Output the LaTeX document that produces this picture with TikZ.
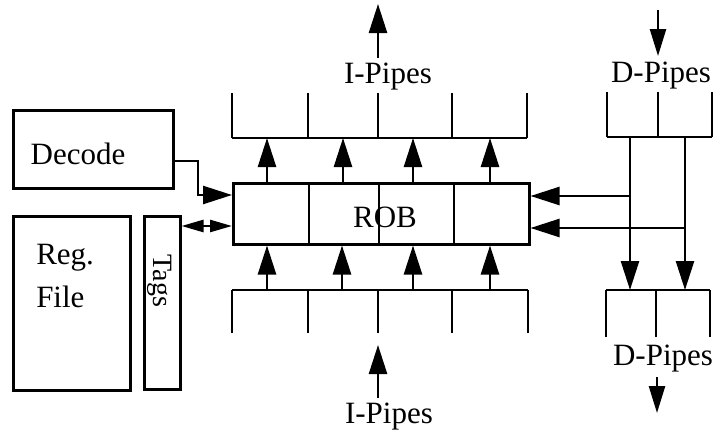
\documentclass[tikz,border=0pt]{standalone}
\usepackage{fontspec}
\setmainfont{Liberation Serif}
\usetikzlibrary{arrows.meta}
\begin{document}
\begin{tikzpicture}[x=1pt,y=-1pt,line width=2.5pt,
  box/.style={draw,line width=2.5pt,inner sep=0pt,anchor=north west},
  lbl/.style={font=\fontsize{31}{36}\selectfont,inner sep=0pt,anchor=base},
  bigarrow/.style={-{Triangle[length=29pt,width=18pt]}},
  midarrow/.style={-{Triangle[length=27pt,width=16pt]}},
  smallboth/.style={{Triangle[length=22pt,width=12pt]}-{Triangle[length=22pt,width=12pt]}}]
\useasboundingbox (0,0) rectangle (718,431);

% boxes
\node[box,minimum width=160pt,minimum height=78pt] (decode) at (12,109) {};
\node[box,minimum width=117pt,minimum height=174pt] (regfile) at (12,215) {};
\node[box,minimum width=36pt,minimum height=173pt] (tags) at (143,215) {};
\node[box,minimum width=296pt,minimum height=61pt] (rob) at (232,182) {};

% ROB dividers
\foreach \x [count=\i] in {309,379,454}{
  \coordinate (rd\i) at (\x,0);
  \draw (rd\i |- rob.north) -- (rd\i |- rob.south);
}

% texts
\node[lbl] (tdecode) at (78,164) {Decode};
\node[lbl,anchor=base west] (treg) at (35,264) {Reg.};
\node[lbl,anchor=base west] (tfile) at (35,307) {File};
\node[font=\fontsize{28}{32}\selectfont,inner sep=0pt,rotate=-90] (ttags) at (160,281) {Tags};
\node[lbl] (trob) at (385,227) {ROB};
\node[lbl] (tip1) at (388,83) {I-Pipes};
\node[lbl] (tip2) at (389,423) {I-Pipes};
\node[lbl] (tdp1) at (661,82) {D-Pipes};
\node[lbl] (tdp2) at (663,365) {D-Pipes};

% top I-pipes comb
\coordinate (ita) at (232,138);
\coordinate (itb) at (527,138);
\draw (ita) -- (itb);
\foreach \x [count=\i] in {232,308,378,452,527}{
  \coordinate (itv\i) at (\x,93);
  \draw (itv\i) -- (itv\i |- ita);
}
\foreach \x [count=\i] in {267,343,413,490}{
  \coordinate (ita\i) at (\x,138);
  \draw[bigarrow] (ita\i |- rob.north) -- (ita\i);
}

% bottom I-pipes comb
\coordinate (iba) at (232,290);
\coordinate (ibb) at (528,290);
\draw (iba) -- (ibb);
\foreach \x [count=\i] in {232,308,378,452,528}{
  \coordinate (ibv\i) at (\x,333);
  \draw (ibv\i) -- (ibv\i |- iba);
}
\foreach \x [count=\i] in {267,342,413,490}{
  \coordinate (iba\i) at (\x,290);
  \draw[bigarrow] (iba\i) -- (iba\i |- rob.south);
}

% I-pipes external arrows
\coordinate (iout0) at (378,58);
\coordinate (iout1) at (378,4);
\draw[bigarrow] (iout0) -- (iout1);
\coordinate (iin0) at (378,398);
\coordinate (iin1) at (378,345);
\draw[bigarrow] (iin0) -- (iin1);

% top D-pipes comb
\coordinate (dta) at (607,137);
\coordinate (dtb) at (712,137);
\draw (dta) -- (dtb);
\foreach \x [count=\i] in {607,658,712}{
  \coordinate (dtv\i) at (\x,92);
  \draw (dtv\i) -- (dtv\i |- dta);
}
\coordinate (din0) at (658,10);
\coordinate (din1) at (658,56);
\draw[midarrow] (din0) -- (din1);

% bottom D-pipes comb
\coordinate (dba) at (606,290);
\coordinate (dbb) at (710,290);
\draw (dba) -- (dbb);
\foreach \x [count=\i] in {606,656,710}{
  \coordinate (dbv\i) at (\x,337);
  \draw (dbv\i) -- (dbv\i |- dba);
}
\coordinate (dout0) at (657,377);
\coordinate (dout1) at (657,413);
\draw[midarrow] (dout0) -- (dout1);

% D-pipes verticals and feeds to ROB
\coordinate (dv1) at (630,137);
\coordinate (dv2) at (685,137);
\draw[bigarrow] (dv1) -- (dv1 |- dba);
\draw[bigarrow] (dv2) -- (dv2 |- dba);
\coordinate (dh1) at (630,196);
\coordinate (dh2) at (685,228);
\draw[bigarrow] (dh1) -- (dh1 -| rob.east);
\draw[bigarrow] (dh2) -- (dh2 -| rob.east);

% Decode to ROB
\coordinate (dec0) at (172,161);
\coordinate (dec1) at (198,161);
\coordinate (dec2) at (198,195);
\draw[bigarrow] (dec0 -| decode.east) -- (dec1) -- (dec2) -- (dec2 -| rob.west);

% Tags <-> ROB
\coordinate (tg) at (180,226);
\draw[smallboth] (tg -| tags.east) -- (tg -| rob.west);
\end{tikzpicture}
\end{document}
